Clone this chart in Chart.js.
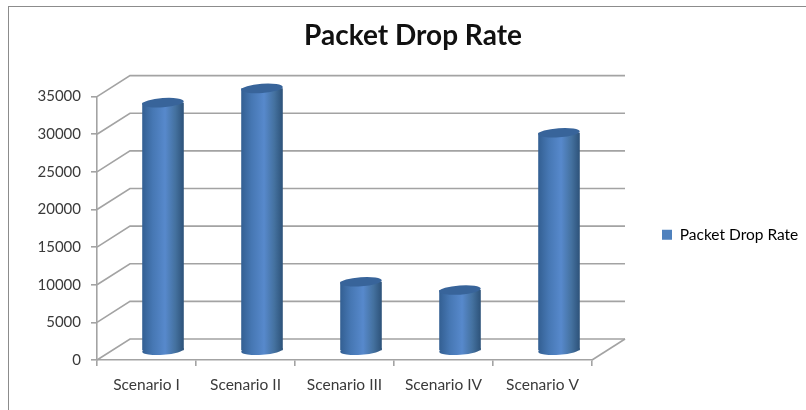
<!DOCTYPE html>
<html>
<head>
<meta charset="utf-8">
<script src="https://cdn.jsdelivr.net/npm/chart.js@4"></script>
<style>
    html, body { margin: 0; padding: 0; background: #fff; overflow: hidden; }
    #frame { position: absolute; left: 8px; top: 6px; width: 820px; height: 420px; border: 1.5px solid #8c8c8c; }
    #myChart { position: absolute; left: 0; top: 0; }
</style>
</head>
<body>
<div id="frame"></div>
<canvas id="myChart" width="806" height="410"></canvas>
<script>
const categories = ['Scenario I', 'Scenario II', 'Scenario III', 'Scenario IV', 'Scenario V'];
const packetDropRate = [33000, 34900, 9200, 8100, 29000];
const seriesName = 'Packet Drop Rate';
const chartTitle = 'Packet Drop Rate';
const yMax = 35000;
const yStep = 5000;

// 3D look: depth of the walls and how far the bars sit into them
const wallDepth = { x: 33, y: -21 };
const barDepth = { x: 16.5, y: -9 };
const barPercent = 0.42;
const fontName = 'Lato, sans-serif';
const textColor = '#3a3a3a';

function cylinderFill(c) {
    const xScale = c.chart.scales.x;
    const mid = xScale.getPixelForValue(c.dataIndex);
    const half = xScale.width / categories.length * barPercent / 2;
    if (!isFinite(mid) || !isFinite(half)) return '#4f81bd';
    const g = c.chart.ctx.createLinearGradient(mid - half, 0, mid + half, 0);
    g.addColorStop(0, '#335f92');
    g.addColorStop(0.25, '#4677b3');
    g.addColorStop(0.55, '#5789cc');
    g.addColorStop(0.8, '#44719f');
    g.addColorStop(1, '#2d5279');
    return g;
}

const depthPlugin = {
    id: 'depthPlugin',
    afterLayout(chart) {
        // title is centred on the outer frame, legend sits right of the plot
        chart.titleBlock.left = 8;
        chart.titleBlock.right = 818;
        const legend = chart.legend;
        legend.left = 662;
        legend.right = 806;
        legend.top = 227;
        legend.bottom = 243;
    },
    beforeDatasetsDraw(chart) {
        const ctx = chart.ctx;
        const y = chart.scales.y;
        const a = chart.chartArea;
        ctx.save();
        ctx.strokeStyle = '#a3a3a3';
        ctx.lineWidth = 1.6;
        y.ticks.forEach(t => {
            const py = y.getPixelForValue(t.value);
            ctx.beginPath();
            ctx.moveTo(a.left, py);
            ctx.lineTo(a.left + wallDepth.x, py + wallDepth.y);
            ctx.lineTo(a.right + wallDepth.x, py + wallDepth.y);
            ctx.stroke();
        });
        // floor, right edge
        ctx.beginPath();
        ctx.moveTo(a.right + wallDepth.x, a.bottom + wallDepth.y);
        ctx.lineTo(a.right, a.bottom);
        ctx.stroke();
        ctx.restore();
    },
    beforeDatasetDraw(chart, args) {
        const ctx = chart.ctx;
        ctx.save();
        ctx.translate(barDepth.x, barDepth.y);
        args.meta.data.forEach(bar => {
            ctx.fillStyle = bar.options.backgroundColor;
            ctx.beginPath();
            ctx.ellipse(bar.x, bar.base, bar.width / 2, 4.6, -0.07, 0, Math.PI * 2);
            ctx.fill();
        });
    },
    afterDatasetDraw(chart, args) {
        const ctx = chart.ctx;
        args.meta.data.forEach(bar => {
            ctx.fillStyle = '#38649a';
            ctx.beginPath();
            ctx.ellipse(bar.x, bar.y, bar.width / 2, 4.6, -0.07, 0, Math.PI * 2);
            ctx.fill();
        });
        ctx.restore();
    }
};

new Chart(document.getElementById('myChart'), {
    type: 'bar',
    data: {
        labels: categories,
        datasets: [{
            label: seriesName,
            data: packetDropRate,
            backgroundColor: cylinderFill,
            borderWidth: 0,
            barPercentage: barPercent,
            categoryPercentage: 1,
            clip: false
        }]
    },
    options: {
        responsive: false,
        animation: false,
        layout: { padding: { left: 20, right: 214, top: 0, bottom: 0 } },
        scales: {
            x: {
                grid: { drawOnChartArea: false, color: '#a3a3a3', lineWidth: 1.6, tickLength: 6 },
                border: { color: '#a3a3a3', width: 1.6 },
                ticks: { color: textColor, font: { family: fontName, size: 15.5 }, padding: 10, maxRotation: 0, autoSkip: false },
                afterFit(scale) { scale.height = 50; }
            },
            y: {
                min: 0,
                max: yMax,
                grid: { drawOnChartArea: false, color: '#a3a3a3', lineWidth: 1.6, tickLength: 6 },
                border: { color: '#a3a3a3', width: 1.6 },
                ticks: {
                    stepSize: yStep,
                    color: textColor,
                    font: { family: fontName, size: 15 },
                    padding: 10,
                    callback: value => String(value)
                },
                afterFit(scale) { scale.width = 77; }
            }
        },
        plugins: {
            title: {
                display: true,
                text: chartTitle,
                color: '#111',
                font: { family: fontName, size: 28, weight: 'bold' },
                padding: { top: 19, bottom: 44 }
            },
            legend: {
                position: 'chartArea',
                align: 'start',
                labels: {
                    boxWidth: 10,
                    boxHeight: 10,
                    padding: 0,
                    color: textColor,
                    font: { family: fontName, size: 15.5 },
                    generateLabels() {
                        return [{ text: seriesName, fillStyle: '#4f81bd', strokeStyle: '#4f81bd', lineWidth: 0, datasetIndex: 0 }];
                    }
                }
            },
            tooltip: { enabled: false }
        }
    },
    plugins: [depthPlugin]
});
</script>
</body>
</html>
